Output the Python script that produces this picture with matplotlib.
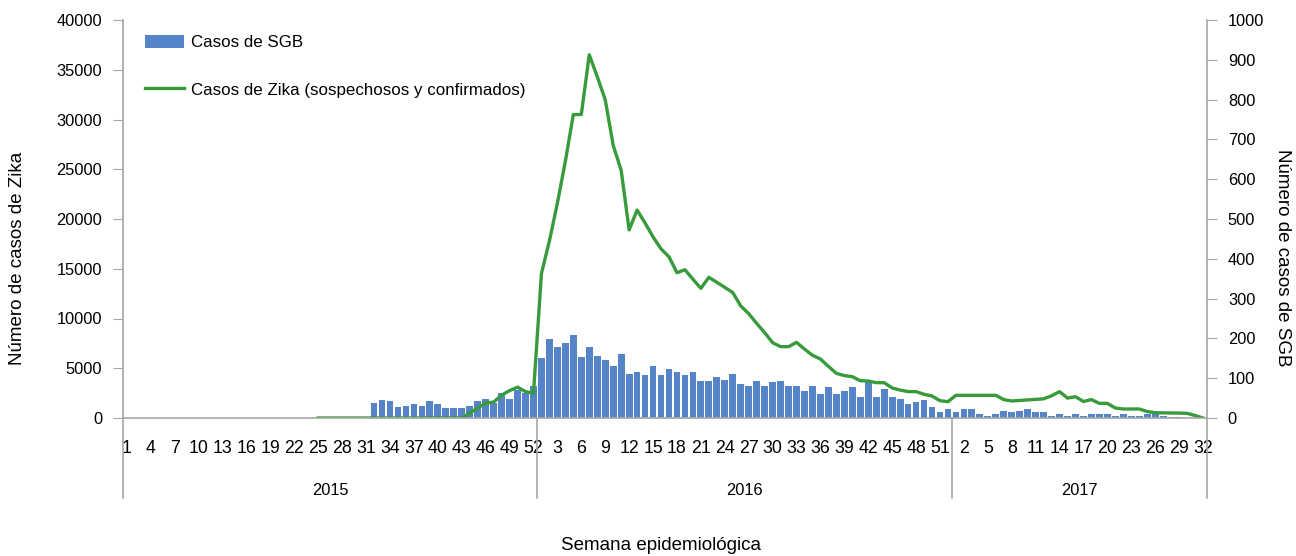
import matplotlib.pyplot as plt
import numpy as np
from matplotlib.transforms import blended_transform_factory

plt.rcParams['font.family'] = ['Liberation Sans', 'DejaVu Sans']
plt.rcParams['font.size'] = 11.8

# semanas epidemiologicas por año
anios = [2015, 2016, 2017]
semanas_por_anio = [52, 52, 32]

# casos de SGB (eje derecho), a partir de 2015 semana 32
sgb_inicio = (2015, 32)
sgb = [38, 45, 42, 27, 30, 35, 30, 43, 35, 26, 26, 26, 30, 43, 48, 38, 64, 48, 70, 62, 80,
       152, 199, 178, 188, 208, 153, 178, 157, 145, 131, 162, 111, 116, 108, 131, 107, 124, 116,
       107, 116, 94, 94, 102, 96, 111, 85, 81, 94, 81, 90, 94, 81, 81, 69, 81, 60, 77, 60,
       69, 77, 53, 90, 53, 73, 52, 48, 36, 40, 44, 28, 15, 23,
       14, 23, 23, 10, 6, 10, 18, 14, 18, 23, 14, 14, 6, 10, 6, 10, 6, 10, 10, 10,
       6, 10, 6, 6, 10, 10, 6, 3, 3]

# casos de Zika sospechosos y confirmados (eje izquierdo), a partir de 2015 semana 25
zika_inicio = (2015, 25)
zika = [0, 0, 0, 0, 0, 0, 0, 0, 0, 0, 0, 0, 0, 0, 0, 0, 0, 0, 0,
        500, 1000, 1500, 1600, 2300, 2750, 3100, 2650, 2500,
        14540, 17800, 21600, 25800, 30500, 30500, 36500, 34300, 32000, 27400,
        24900, 18900, 20900, 19600, 18200, 17000, 16200, 14600, 14900, 13950,
        13030, 14140, 13640, 13130, 12610, 11260, 10490, 9510, 8580, 7570,
        7170, 7170, 7600, 6930, 6300, 5930, 5190, 4490, 4260, 4150,
        3750, 3720, 3550, 3550, 3020, 2810, 2650, 2650, 2380, 2210, 1740, 1640,
        2280, 2280, 2280, 2280, 2280, 2280, 1850, 1710, 1760, 1810, 1870, 1930,
        2230, 2650, 2000, 2140, 1660, 1850, 1470, 1470, 1000, 905, 905, 905,
        650, 530, 520, 500, 490, 470, 250, 0]

#==============================================================================
etiquetas = []
for a, n in zip(anios, semanas_por_anio):
    for s in range(1, n + 1):
        etiquetas.append((a, s))
N = len(etiquetas)
x = np.arange(1, N + 1)

def serie(inicio, valores):
    k = etiquetas.index(inicio)
    y = np.full(N, np.nan)
    y[k:k + len(valores)] = valores
    return y

y_sgb = serie(sgb_inicio, sgb)
y_zika = serie(zika_inicio, zika)

gris = '#a6a6a6'
azul = '#5585c8'
verde = '#379a3b'

fig = plt.figure(figsize=(12.96, 5.56), dpi=100)
ax = fig.add_axes([123/1296, 1 - 418/556, (1207 - 123)/1296, (418 - 20)/556])
ax2 = ax.twinx()

barras = ax2.bar(x, y_sgb, width=0.85, color=azul, label='Casos de SGB')
linea, = ax.plot(x, y_zika, color=verde, lw=2.4, label='Casos de Zika (sospechosos y confirmados)')

# la linea delante de las barras
ax.set_zorder(ax2.get_zorder() + 1)
ax.patch.set_visible(False)

ax.set_xlim(0.5, N + 0.5)
ax.set_ylim(0, 40000)
ax.set_yticks(np.arange(0, 40001, 5000))
ax2.set_ylim(0, 1000)
ax2.set_yticks(np.arange(0, 1001, 100))

ticks = x[::3]
ax.set_xticks(ticks)
ax.set_xticklabels([str(etiquetas[t - 1][1]) for t in ticks])
ax.tick_params(axis='x', length=0, pad=16, labelsize=12.8)
ax.tick_params(axis='y', length=7, color=gris, pad=8)
ax2.tick_params(axis='y', length=7, color=gris, pad=8)

for a in (ax, ax2):
    a.spines['top'].set_visible(False)
    for s in ('left', 'right', 'bottom'):
        a.spines[s].set_color(gris)
        a.spines[s].set_linewidth(1.2)
ax.spines['right'].set_visible(False)
ax2.spines['left'].set_visible(False)
ax2.spines['bottom'].set_visible(False)

# separadores y etiquetas de año
tr = blended_transform_factory(ax.transData, ax.transAxes)
borde = 0.5
for a, n in zip(anios, semanas_por_anio):
    ax.plot([borde, borde], [0, -0.2], color=gris, lw=1.2, transform=tr, clip_on=False)
    ax.text(borde + n / 2, -0.181, str(a), transform=tr, ha='center', va='center')
    borde += n
ax.plot([borde, borde], [0, -0.2], color=gris, lw=1.2, transform=tr, clip_on=False)

fig.text(661/1296, 1 - 545/556, 'Semana epidemiológica', ha='center', va='center', fontsize=13.5)
fig.text(18/1296, 1 - 258/556, 'Número de casos de Zika', rotation=90, ha='center', va='center', fontsize=13.5)
fig.text(1283/1296, 1 - 258/556, 'Número de casos de SGB', rotation=270, ha='center', va='center', fontsize=13.5)

ax.legend([barras, linea], ['Casos de SGB', 'Casos de Zika (sospechosos y confirmados)'],
          loc='upper left', bbox_to_anchor=(0.02, 0.962), frameon=False, fontsize=12.2,
          handlelength=2.3, handleheight=0.75, labelspacing=1.9, handletextpad=0.45,
          borderaxespad=0, borderpad=0)

fig.savefig('out.png', dpi=100)
